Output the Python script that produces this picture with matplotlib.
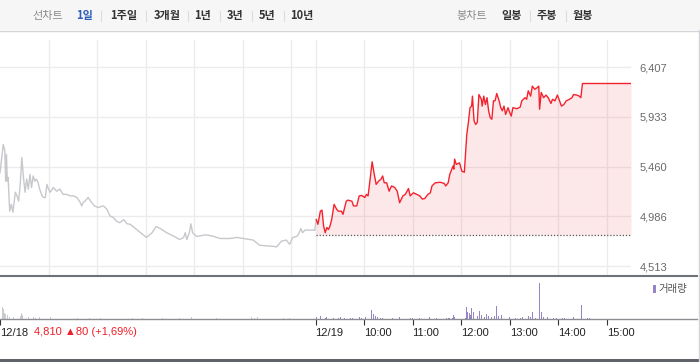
import matplotlib.pyplot as plt
from matplotlib.patches import Rectangle
from matplotlib.lines import Line2D
from matplotlib.ticker import FuncFormatter

# minutes since 12/18 09:00 (12/19 09:00 = 390)
t_prev = [0, 4, 6, 7, 8, 9, 10, 12, 14, 16, 19, 21, 23, 25, 27, 29, 31, 33, 35, 37,
          39, 41, 43, 45, 47, 49, 52, 54, 56, 58, 60, 62, 66, 70, 74, 78, 82, 87, 91, 95,
          99, 101, 103, 105, 109, 113, 117, 121, 128, 132, 136, 140, 144, 148, 153, 157,
          161, 169, 181, 188, 193, 198, 206, 214, 222, 227, 229, 231, 234, 236, 238, 243,
          247, 255, 264, 272, 284, 293, 301, 313, 321, 330, 338, 342, 348, 354, 358, 362,
          367, 369, 372, 374, 377, 389]
p_prev = [5400, 5670, 5605, 5320, 5575, 5320, 5355, 5035, 5100, 5025, 5215, 5180, 5130,
          5290, 5545, 5355, 5215, 5340, 5245, 5385, 5260, 5370, 5320, 5340, 5310, 5245,
          5180, 5165, 5165, 5290, 5245, 5215, 5260, 5225, 5245, 5195, 5195, 5180, 5180,
          5165, 5120, 5085, 5120, 5130, 5165, 5120, 5085, 5070, 5085, 5055, 4990, 4975,
          4940, 4925, 4955, 4915, 4910, 4860, 4785, 4830, 4890, 4870, 4830, 4800, 4765,
          4785, 4830, 4765, 4830, 4915, 4830, 4795, 4800, 4810, 4795, 4775, 4775, 4785,
          4775, 4760, 4710, 4705, 4700, 4695, 4750, 4760, 4720, 4785, 4795, 4815, 4870,
          4830, 4855, 4855]

t_today = [391, 393, 396, 398, 400, 402, 404, 406, 408, 410, 413, 416, 418, 422, 424, 428,
           430, 435, 437, 441, 444, 447, 451, 453, 455, 457, 460, 463, 465, 468, 471, 473,
           475, 478, 481, 484, 488, 491, 494, 498, 501, 505, 507, 511, 515, 519, 522, 525,
           529, 532, 534, 538, 544, 549, 551, 554, 556, 560, 561, 562, 564, 568, 571, 574,
           577, 579, 581, 583, 584, 586, 588, 590, 592, 595, 596, 598, 600, 602, 604, 606,
           608, 610, 612, 614, 617, 619, 621, 623, 625, 628, 630, 632, 634, 639, 643, 645,
           649, 651, 653, 656, 658, 661, 664, 666, 667, 669, 672, 675, 678, 681, 683, 686,
           689, 691, 694, 697, 700, 704, 707, 709, 713, 716, 718, 720, 780]
p_today = [4955, 4910, 5035, 5045, 4895, 4830, 4880, 4860, 4895, 4955, 5100, 5055, 5035,
           5035, 5005, 5130, 5140, 5130, 5085, 5085, 5180, 5185, 5165, 5195, 5180, 5305,
           5505, 5370, 5290, 5320, 5340, 5370, 5305, 5305, 5225, 5275, 5260, 5225, 5115,
           5180, 5195, 5250, 5180, 5210, 5195, 5180, 5150, 5155, 5195, 5210, 5275, 5305,
           5310, 5300, 5275, 5305, 5385, 5465, 5435, 5530, 5480, 5495, 5415, 5405, 5765,
           5880, 6020, 6035, 6130, 5895, 5860, 5880, 6145, 6100, 6035, 6130, 6050, 6115,
           5990, 5925, 5910, 6085, 6085, 6155, 6085, 6020, 5990, 6035, 5955, 6020, 5975,
           5940, 6020, 6010, 6025, 6085, 6115, 6100, 6180, 6130, 6225, 6195, 6210, 6225,
           6005, 6165, 6115, 6140, 6110, 6060, 6100, 6085, 6140, 6100, 6035, 6050, 6085,
           6100, 6115, 6145, 6140, 6130, 6115, 6250, 6250]

prev_close = 4810
y_ticks = [4513, 4986, 5460, 5933, 6407]

vt_prev = [3, 4, 5, 6, 7, 9, 10, 12, 15, 17, 21, 25, 27, 28, 31, 35, 41, 44, 47, 49, 58,
           62, 96, 111, 124, 136, 152, 164, 176, 194, 201, 222, 231, 237, 251, 268, 288,
           311, 315, 318, 330, 350, 358, 371]
vv_prev = [38, 30, 23, 18, 15, 13, 10, 8, 10, 8, 8, 11, 20, 13, 8, 6, 7, 5, 6, 6, 8, 6,
           5, 5, 5, 6, 5, 5, 5, 5, 5, 5, 6, 6, 5, 5, 5, 6, 5, 6, 5, 5, 5, 5]

vt_today = [391, 393, 396, 398, 402, 404, 408, 412, 414, 418, 421, 426, 429, 433, 436, 444,
            447, 450, 452, 456, 459, 460, 461, 462, 464, 466, 467, 470, 473, 477, 481, 485,
            494, 498, 507, 510, 519, 531, 534, 540, 544, 552, 554, 556, 559, 561, 562, 565,
            575, 576, 577, 578, 580, 581, 582, 583, 585, 586, 587, 590, 592, 593, 595, 597,
            599, 601, 602, 604, 607, 608, 611, 613, 614, 616, 618, 620, 623, 628, 630, 637,
            643, 646, 649, 653, 656, 658, 659, 662, 665, 667, 669, 670, 672, 675, 677, 680,
            684, 688, 695, 698, 702, 706, 709, 719, 726, 729, 738]
vv_today = [8, 5, 10, 6, 4, 7, 3, 4, 3, 4, 6, 3, 6, 3, 3, 7, 4, 4, 7, 13, 27, 32, 25, 15,
            10, 8, 6, 5, 4, 4, 4, 4, 7, 3, 3, 5, 3, 6, 3, 5, 4, 4, 4, 5, 5, 13, 8, 4, 4, 12,
            37, 23, 20, 37, 12, 35, 22, 30, 15, 10, 28, 24, 12, 8, 7, 17, 7, 10, 6, 8, 10, 15,
            40, 10, 6, 13, 6, 8, 6, 4, 5, 8, 6, 10, 7, 23, 6, 4, 5, 110, 22, 8, 6, 10, 6, 4,
            4, 4, 4, 5, 4, 4, 8, 43, 4, 4, 4]

x_ticks = [0, 390, 450, 510, 570, 630, 690, 750]
x_labels = ['12/18', '12/19', '10:00', '11:00', '12:00', '13:00', '14:00', '15:00']

W, H = 700, 362
fig = plt.figure(figsize=(7, 3.62), dpi=100)
num = ['Liberation Sans', 'DejaVu Sans']
kr = ['Noto Sans CJK KR', 'DejaVu Sans']

# header bar
fig.add_artist(Rectangle((0, 1 - 30 / H), 1, 30 / H, transform=fig.transFigure,
                         facecolor='#f6f6f7', edgecolor='none'))
fig.add_artist(Line2D([0, 1], [1 - 30.5 / H] * 2, color='#d2d4d8', lw=1))
fig.add_artist(Line2D([698.5 / W] * 2, [0, 1 - 30 / H], color='#d2d4d8', lw=1))
fig.add_artist(Rectangle((0, 0), 1, 3 / H, transform=fig.transFigure,
                         facecolor='#5f6368', edgecolor='none'))

tabs = [('선차트', 48, '#8a8a8a', 'normal'), ('1일', 85, '#2c5fb8', 'bold'),
        ('1주일', 124, '#333333', 'bold'), ('3개월', 167, '#333333', 'bold'),
        ('1년', 203, '#333333', 'bold'), ('3년', 235, '#333333', 'bold'),
        ('5년', 267, '#333333', 'bold'), ('10년', 302, '#333333', 'bold'),
        ('봉차트', 472, '#8a8a8a', 'normal'), ('일봉', 512, '#333333', 'bold'),
        ('주봉', 547, '#333333', 'bold'), ('월봉', 583, '#333333', 'bold')]
for s, x, c, w in tabs:
    fig.text(x / W, 1 - 15.5 / H, s, ha='center', va='center', color=c,
             fontsize=8, fontweight=w, family=kr)
for x in [101, 146, 188, 220, 252, 284, 530, 566]:
    fig.add_artist(Line2D([x / W] * 2, [1 - 10.5 / H, 1 - 20.5 / H], color='#dcdcdc', lw=0.8))

# price chart
ax = fig.add_axes([0, 1 - 276 / H, 631 / W, (276 - 40) / H])
ax.set_xlim(0, 780)
ax.set_ylim(4418, 6664)
for v in [60, 120, 180, 240, 300, 360, 390, 450, 510, 570, 630, 690, 750]:
    ax.axvline(v, color='#ececec', lw=1, zorder=0)
for v in y_ticks:
    ax.axhline(v, color='#ececec', lw=1, zorder=0)
ax.plot(t_prev, p_prev, color='#c6c8cc', lw=1, zorder=3)
ax.plot([t_prev[-1], t_today[0]], [p_prev[-1], p_today[0]], color='#c6c8cc', lw=1, zorder=3)
ax.fill_between(t_today, p_today, prev_close, color='#f2303c', alpha=0.11, lw=0, zorder=1)
ax.plot(t_today, p_today, color='#f5222d', lw=1, zorder=3)
ax.hlines(prev_close, 390, 780, colors='#555555', linestyles=(0, (1, 1.5)), lw=0.9, zorder=2)
ax.set_yticks(y_ticks)
ax.yaxis.set_major_formatter(FuncFormatter(lambda v, p: f'{int(v):,}'))
ax.yaxis.tick_right()
ax.tick_params(axis='y', length=0, pad=6, labelcolor='#6a6a6a', labelsize=8)
for lab in ax.get_yticklabels():
    lab.set_family(num)
ax.set_xticks([])
for s in ax.spines.values():
    s.set_visible(False)
ax.patch.set_alpha(0)

# volume chart
vx = 780 * 697 / 631
vax = fig.add_axes([0, 1 - 319.3 / H, 697 / W, 43.3 / H])
vax.bar(vt_prev, vv_prev, width=0.9, color='#c9cacd', lw=0)
vax.bar(vt_today, vv_today, width=0.9, color='#9783c7', lw=0)
vax.set_xlim(0, vx)
vax.set_ylim(0, 130)
vax.set_yticks([])
vax.set_xticks(x_ticks)
vax.set_xticklabels(x_labels)
vax.tick_params(axis='x', direction='out', length=4, width=0.8, color='#333333',
                labelsize=8, labelcolor='#222222', pad=2)
for lab in vax.get_xticklabels():
    lab.set_horizontalalignment('left')
    lab.set_family(num)
for k in ['top', 'left', 'right']:
    vax.spines[k].set_visible(False)
vax.spines['bottom'].set_color('#8a8d91')
vax.spines['bottom'].set_linewidth(1)
vax.patch.set_alpha(0)

fig.add_artist(Line2D([0, 697 / W], [1 - 276 / H] * 2, color='#6e7378', lw=1.5))

fig.text(34 / W, 1 - 332 / H, '4,810 ▲80 (+1,69%)', color='#f01e28', fontsize=8,
         ha='left', va='center', family=num)
fig.add_artist(Rectangle((652.5 / W, 1 - 293 / H), 3 / W, 8 / H, transform=fig.transFigure,
                         facecolor='#9783c7', edgecolor='none'))
fig.text(658 / W, 1 - 289 / H, '거래량', color='#555555', fontsize=7.5,
         ha='left', va='center', family=kr)

fig.savefig('out.png', dpi=100)
